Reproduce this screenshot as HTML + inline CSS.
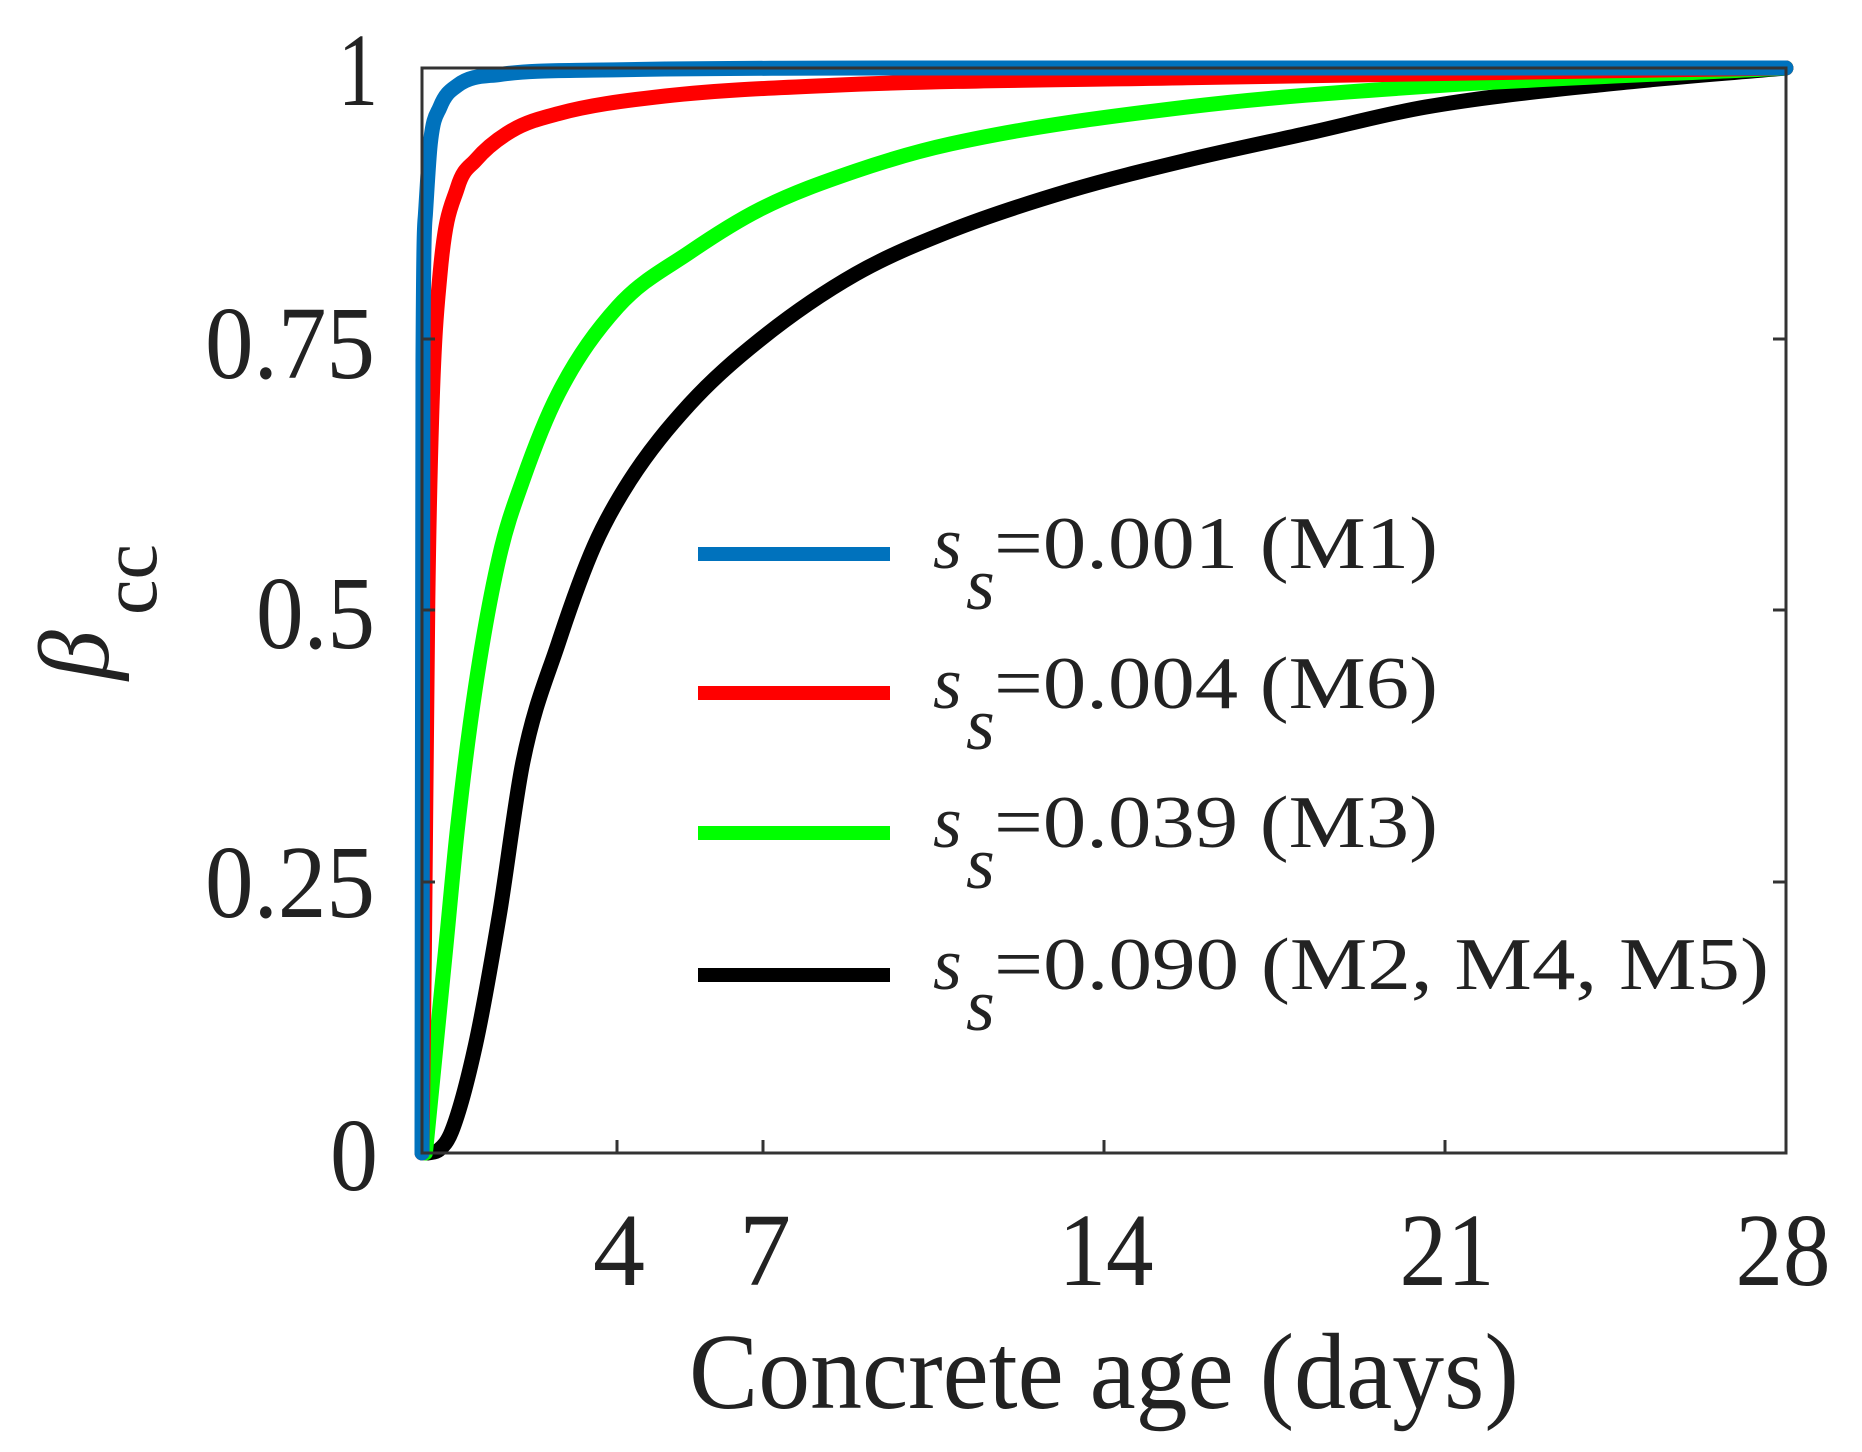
<!DOCTYPE html>
<html><head><meta charset="utf-8"><style>
html,body{margin:0;padding:0;background:#fff;}
svg{display:block;}
text{font-family:"Liberation Serif",serif;fill:#222;}
</style></head><body>
<svg id="s" width="1862" height="1452" viewBox="0 0 1862 1452" xmlns="http://www.w3.org/2000/svg">
<g id="curves" fill="none" stroke-width="15" stroke-linecap="round" stroke-linejoin="round"></g>
<rect x="422" y="68" width="1364" height="1085" fill="none" stroke="#333" stroke-width="3"/>
<g stroke="#333" stroke-width="3">
<line x1="617" y1="1153" x2="617" y2="1140"/>
<line x1="763" y1="1153" x2="763" y2="1140"/>
<line x1="1104" y1="1153" x2="1104" y2="1140"/>
<line x1="1445" y1="1153" x2="1445" y2="1140"/>
<line x1="1786" y1="882" x2="1773" y2="882"/>
<line x1="1786" y1="610" x2="1773" y2="610"/>
<line x1="1786" y1="339" x2="1773" y2="339"/>
<line x1="422" y1="882" x2="435" y2="882"/>
<line x1="422" y1="610" x2="435" y2="610"/>
<line x1="422" y1="339" x2="435" y2="339"/>
</g>
<g font-size="104" text-anchor="end">
<text x="378" y="1190" textLength="48" lengthAdjust="spacingAndGlyphs">0</text>
<text x="375" y="917" textLength="170" lengthAdjust="spacingAndGlyphs">0.25</text>
<text x="375" y="648" textLength="119" lengthAdjust="spacingAndGlyphs">0.5</text>
<text x="375" y="378" textLength="170" lengthAdjust="spacingAndGlyphs">0.75</text>
<text x="378" y="105" textLength="40" lengthAdjust="spacingAndGlyphs">1</text>
</g>
<g font-size="104" text-anchor="middle">
<text x="619" y="1285">4</text>
<text x="765" y="1285">7</text>
<text x="1106" y="1285" textLength="95" lengthAdjust="spacingAndGlyphs">14</text>
<text x="1447" y="1285" textLength="95" lengthAdjust="spacingAndGlyphs">21</text>
<text x="1783" y="1285" textLength="95" lengthAdjust="spacingAndGlyphs">28</text>
</g>
<text x="689" y="1408" font-size="108" textLength="830" lengthAdjust="spacingAndGlyphs">Concrete age (days)</text>
<g transform="translate(108,680) rotate(-90)">
<text x="0" y="0" font-size="100" font-style="italic">β</text>
<text x="65" y="48" font-size="80">cc</text>
</g>
<g stroke-width="14">
<line x1="698" y1="554" x2="890" y2="554" stroke="#0072BD"/>
<line x1="698" y1="693" x2="890" y2="693" stroke="#ff0000"/>
<line x1="698" y1="833" x2="890" y2="833" stroke="#00ff00"/>
<line x1="698" y1="975" x2="890" y2="975" stroke="#000"/>
</g>
<g font-size="74">
<text x="933" y="568" font-style="italic">s</text>
<text x="966" y="609" font-style="italic">s</text>
<text x="994" y="568" textLength="444" lengthAdjust="spacingAndGlyphs">=0.001 (M1)</text>
<text x="933" y="708" font-style="italic">s</text>
<text x="966" y="749" font-style="italic">s</text>
<text x="994" y="708" textLength="444" lengthAdjust="spacingAndGlyphs">=0.004 (M6)</text>
<text x="933" y="847" font-style="italic">s</text>
<text x="966" y="888" font-style="italic">s</text>
<text x="994" y="847" textLength="444" lengthAdjust="spacingAndGlyphs">=0.039 (M3)</text>
<text x="933" y="989" font-style="italic">s</text>
<text x="966" y="1030" font-style="italic">s</text>
<text x="994" y="989" textLength="775" lengthAdjust="spacingAndGlyphs">=0.090 (M2, M4, M5)</text>
</g>
</svg>
<script>
function X(d){return 422+d*48.71;}
function Y(b){return 1153-b*1085;}
function mono(pts){
  var n=pts.length,xs=pts.map(p=>p[0]),ys=pts.map(p=>p[1]),d=[],m=[];
  for(var i=0;i<n-1;i++)d.push((ys[i+1]-ys[i])/(xs[i+1]-xs[i]));
  m[0]=d[0];m[n-1]=d[n-2];
  for(i=1;i<n-1;i++){m[i]=(d[i-1]*d[i]<=0)?0:(d[i-1]+d[i])/2;}
  for(i=0;i<n-1;i++){if(d[i]==0){m[i]=m[i+1]=0;continue;}var a=m[i]/d[i],b=m[i+1]/d[i],h=a*a+b*b;if(h>9){var t=3/Math.sqrt(h);m[i]=t*a*d[i];m[i+1]=t*b*d[i];}}
  var s="M"+X(xs[0])+","+Y(ys[0]);
  for(i=0;i<n-1;i++){var h2=(xs[i+1]-xs[i])/3;
    s+="C"+X(xs[i]+h2)+","+Y(ys[i]+m[i]*h2)+" "+X(xs[i+1]-h2)+","+Y(ys[i+1]-m[i+1]*h2)+" "+X(xs[i+1])+","+Y(ys[i+1]);}
  return s;
}
var series=[
 ["#000",[[0.12,0],[0.35,0.003],[0.61,0.02],[1.1,0.1],[1.59,0.22],[2.07,0.36],[2.8,0.47],[3.54,0.56],[4.27,0.62],[5.49,0.69],[6.95,0.75],[8.9,0.81],[10.85,0.85],[13.3,0.887],[15.7,0.915],[18.2,0.94],[20.6,0.964],[24.3,0.985],[28,1]]],
 ["#00ff00",[[0.07,0],[0.24,0.077],[0.49,0.19],[0.73,0.30],[1.1,0.43],[1.59,0.55],[2.07,0.62],[2.8,0.70],[4.02,0.78],[5.49,0.83],[6.95,0.87],[8.9,0.905],[10.85,0.93],[15.7,0.964],[20.6,0.983],[28,1]]],
 ["#ff0000",[[0,0],[0.05,0.19],[0.12,0.51],[0.2,0.68],[0.37,0.81],[0.73,0.89],[1.1,0.915],[1.83,0.942],[2.8,0.958],[4.76,0.973],[8.4,0.984],[15.7,0.991],[28,1]]],
 ["#0072BD",[[0,0],[0.02,0.73],[0.07,0.865],[0.17,0.93],[0.37,0.964],[0.73,0.984],[1.59,0.994],[3.5,0.998],[10.85,1],[28,1]]]
];
var g=document.getElementById('curves');
series.forEach(function(s){var p=document.createElementNS('http://www.w3.org/2000/svg','path');p.setAttribute('d',mono(s[1]));p.setAttribute('stroke',s[0]);g.appendChild(p);});
</script>
</body></html>
